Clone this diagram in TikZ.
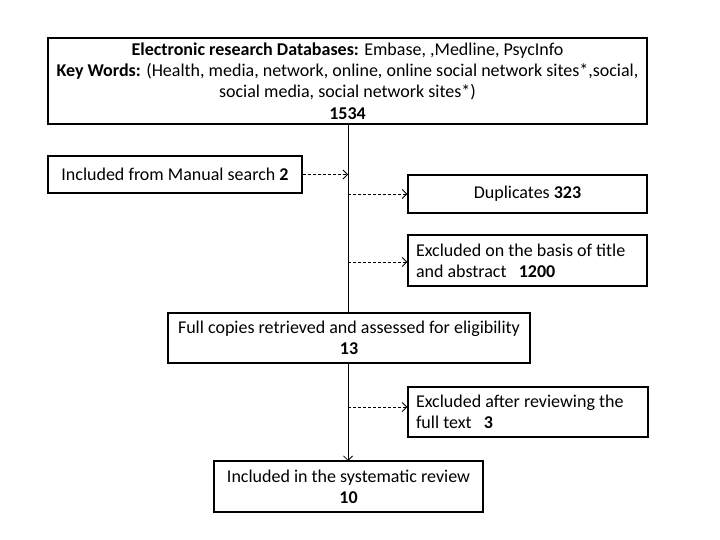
\documentclass[tikz,border=0pt]{standalone}
\usepackage{fontspec}
\setmainfont{Carlito}
\usetikzlibrary{arrows.meta}
\begin{document}
\begin{tikzpicture}[x=1pt,y=-1pt,
  box/.style={draw, line width=1.5pt, inner xsep=8pt, inner ysep=0pt, align=center,
    font=\fontsize{18}{21.3}\selectfont},
  lbox/.style={box, align=flush left},
  solidline/.style={line width=0.8pt},
  solidarrow/.style={line width=0.8pt, -{Straight Barb[length=4.5pt,width=9pt,line width=0.8pt]}},
  dasharrow/.style={line width=0.8pt, dash pattern=on 3pt off 2pt,
    -{Straight Barb[length=4.5pt,width=9pt,line width=0.8pt]}}]
\useasboundingbox (0,0) rectangle (720,540);
\fill[white] (0,0) rectangle (720,540);

\node[box, minimum width=599pt, minimum height=86pt] (top) at (347.5,81)
  {\textbf{Electronic research Databases:} Embase, ,Medline, PsycInfo\\
   \textbf{Key Words:} (Health, media, network, online, online social network sites*,social,\\
   social media, social network sites*)\\
   \textbf{1534}};

\node[box, minimum width=254pt, minimum height=37pt] (manual) at (175,174.5)
  {Included from Manual search \textbf{2}};

\node[box, minimum width=239pt, minimum height=38pt] (dup) at (527.5,194)
  {Duplicates \textbf{323}};

\node[lbox, text width=223pt, minimum height=51pt] (extitle) at (527.5,260.5)
  {Excluded on the basis of title\\ and abstract \ \ \textbf{1200}};

\node[box, minimum width=362pt, minimum height=50pt] (full) at (349,338)
  {Full copies retrieved and assessed for eligibility\\ \textbf{13}};

\node[lbox, text width=224pt, minimum height=50pt] (exfull) at (528,412)
  {Excluded after reviewing the\\ full text \ \ \textbf{3}};

\node[box, minimum width=269pt, minimum height=51pt] (final) at (348.5,486.5)
  {Included in the systematic review\\ \textbf{10}};

\coordinate (trunktop) at (348,124);
\coordinate (trunkmid) at (348,313);
\coordinate (trunk2) at (348,363);
\coordinate (trunkend) at (348,461);

\draw[solidline] (trunktop) -- (trunkmid);
\draw[solidarrow] (trunk2) -- (trunkend);

\draw[dasharrow] (manual.east) -- (manual.east -| trunktop);
\draw[dasharrow] (dup.west -| trunktop) -- (dup.west);
\draw[dasharrow] ([yshift=-1.5pt]extitle.west -| trunktop) -- ([yshift=-1.5pt]extitle.west);
\draw[dasharrow] ([yshift=5pt]exfull.west -| trunktop) -- ([yshift=5pt]exfull.west);
\end{tikzpicture}
\end{document}
